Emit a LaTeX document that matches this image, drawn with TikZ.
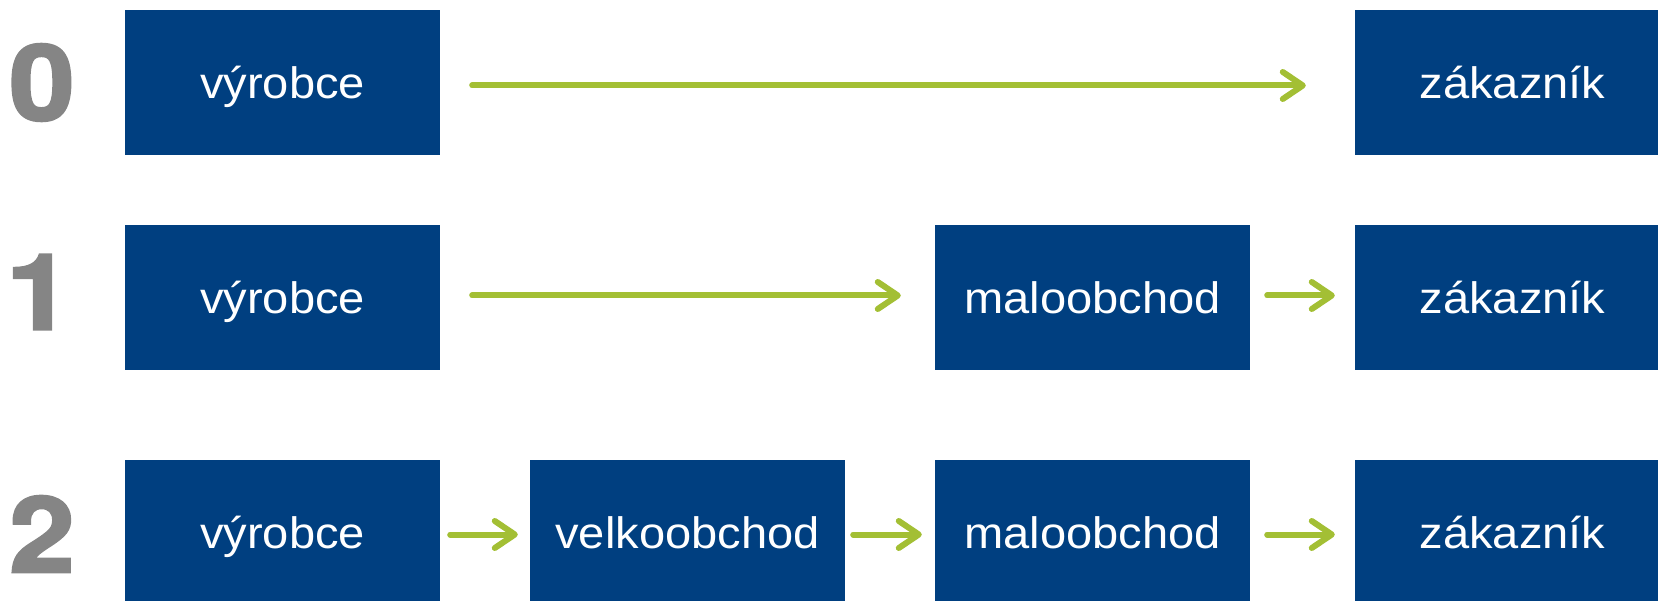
\documentclass[tikz,border=0pt]{standalone}
\usepackage{fontspec}
\setmainfont{Liberation Sans}
\newfontfamily\boxfont[FakeStretch=1.07]{Liberation Sans}
\newfontfamily\numfont[FakeBold=2.5,FakeStretch=1.12]{TeX Gyre Heros Bold}
\usetikzlibrary{arrows.meta}
\definecolor{chainblue}{HTML}{003F80}
\definecolor{chaingreen}{HTML}{A3BF34}
\definecolor{numgray}{HTML}{858585}
\tikzset{
  stage/.style={fill=chainblue, text=white, minimum width=315pt, minimum height=145pt,
    inner sep=0pt, font=\boxfont\fontsize{44}{50}\selectfont},
  level/.style={text=numgray, inner sep=0pt, font=\numfont\fontsize{105}{110}\selectfont},
  flow/.style={draw=chaingreen, line width=6pt, line cap=round,
    -{Straight Barb[length=20pt, width=27pt, line cap=round, line join=round]}}
}
\begin{document}
\begin{tikzpicture}[x=1pt, y=-1pt]
\useasboundingbox (0,0) rectangle (1658,601);
% level numbers
\node[level] (n0) at (42,82.5) {0};
\node[level] (n1) at (39,292) {1};
\node[level] (n2) at (42,534) {2};
% row 0: direct sale
\node[stage] (a0) at (282.5,82.5) {};
\node[stage] (z0) at (1512.5,82.5) {zákazník};
% row 1: one intermediary
\node[stage] (a1) at (282.5,297.5) {};
\node[stage] (m1) at (1092.5,297.5) {maloobchod};
\node[stage] (z1) at (1512.5,297.5) {zákazník};
% row 2: two intermediaries
\node[stage] (a2) at (282.5,532.5) {};
\node[stage] (v2) at (687.5,532.5) {velkoobchod};
\node[stage] (m2) at (1092.5,532.5) {maloobchod};
\node[stage] (z2) at (1512.5,532.5) {zákazník};
% producer labels sit slightly lower in their boxes
\foreach \r in {a0,a1,a2}
  \node[text=white, inner sep=0pt, font=\boxfont\fontsize{44}{50}\selectfont,
        yshift=-4.5pt] (\r-label) at (\r) {výrobce};
% flows
\draw[flow, shorten <=32pt, shorten >=49pt] ([yshift=-3pt]a0.east) -- ([yshift=-3pt]z0.west);
\draw[flow, shorten <=32pt, shorten >=34pt] ([yshift=2pt]a1.east) -- ([yshift=2pt]m1.west);
\draw[flow, shorten <=17pt, shorten >=20pt] ([yshift=2pt]m1.east) -- ([yshift=2pt]z1.west);
\draw[flow, shorten <=10pt, shorten >=12pt] ([yshift=-2pt]a2.east) -- ([yshift=-2pt]v2.west);
\draw[flow, shorten <=8pt, shorten >=13pt] ([yshift=-2pt]v2.east) -- ([yshift=-2pt]m2.west);
\draw[flow, shorten <=17pt, shorten >=20pt] ([yshift=-2pt]m2.east) -- ([yshift=-2pt]z2.west);
\end{tikzpicture}
\end{document}
